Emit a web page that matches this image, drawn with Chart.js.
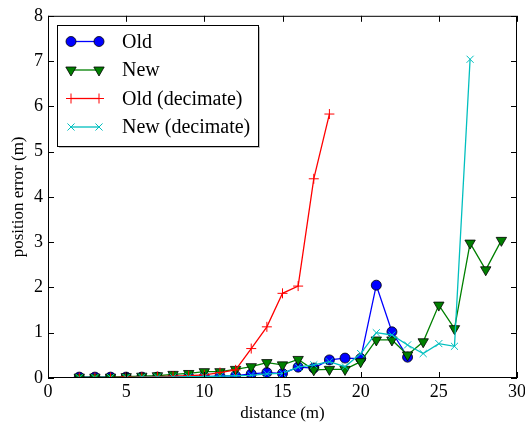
<!DOCTYPE html>
<html>
<head>
<meta charset="utf-8">
<script src="https://cdn.jsdelivr.net/npm/chart.js@4.4.0/dist/chart.umd.min.js"></script>
<style>
  html, body { margin: 0; padding: 0; background: #fff; }
  #wrap { width: 525px; height: 422px; position: relative; }
</style>
</head>
<body>
<div id="wrap"><canvas id="mycanvas" width="525" height="422"></canvas></div>
<script>
// distances (m) for each series
var oldDist = [2,3,4,5,6,7,8,9,10,11,12,13,14,15,16,17,18,19,20,21,22,23];
var oldErr = [0.02,0.02,0.02,0.02,0.02,0.02,0.03,0.03,0.03,0.04,0.05,0.09,0.12,0.1,0.24,0.22,0.4,0.44,0.43,2.05,1.02,0.46];

var newDist = [2,3,4,5,6,7,8,9,10,11,12,13,14,15,16,17,18,19,20,21,22,23,24,25,26,27,28,29];
var newErr = [0.02,0.02,0.02,0.03,0.04,0.05,0.08,0.1,0.14,0.14,0.19,0.25,0.34,0.29,0.41,0.18,0.19,0.19,0.36,0.84,0.84,0.51,0.8,1.61,1.09,2.98,2.39,3.04];

var oldDecDist = [2,3,4,5,6,7,8,9,10,11,12,13,14,15,16,17,18];
var oldDecErr = [0.01,0.01,0.01,0.02,0.02,0.03,0.04,0.05,0.07,0.12,0.18,0.65,1.13,1.87,2.03,4.4,5.83];

var newDecDist = [2,3,4,5,6,7,8,9,10,11,12,13,14,15,16,17,18,19,20,21,22,23,24,25,26,27];
var newDecErr = [0.01,0.01,0.01,0.01,0.02,0.02,0.02,0.03,0.03,0.04,0.05,0.06,0.09,0.1,0.24,0.29,0.36,0.25,0.54,1.0,0.95,0.73,0.54,0.76,0.7,7.04];

var xTicks = [0,5,10,15,20,25,30];
var yTicks = [0,1,2,3,4,5,6,7,8];

function pts(xs, ys) {
	var out = [];
	for (var i in xs) out.push({x: xs[i], y: ys[i]});
	return out;
}

var serif = "'Liberation Serif', 'DejaVu Serif', serif";

var datasets = [
	{
		label: "Old", data: pts(oldDist, oldErr), order: 4,
		borderColor: "#0000ff", backgroundColor: "#0000ff", borderWidth: 1.3,
		pointStyle: "circle", pointRadius: 5, pointBorderColor: "#000", pointBorderWidth: 0.8,
		pointBackgroundColor: "#0000ff"
	},
	{
		label: "New", data: pts(newDist, newErr), order: 3,
		borderColor: "#008000", backgroundColor: "#008000", borderWidth: 1.3,
		pointStyle: "triangle", pointRotation: 180, pointRadius: 6, pointBorderColor: "#000",
		pointBorderWidth: 0.8, pointBackgroundColor: "#008000"
	},
	{
		label: "Old (decimate)", data: pts(oldDecDist, oldDecErr), order: 2,
		borderColor: "#ff0000", backgroundColor: "#ff0000", borderWidth: 1.3,
		pointStyle: "cross", pointRadius: 5, pointBorderColor: "#ff0000", pointBorderWidth: 1
	},
	{
		label: "New (decimate)", data: pts(newDecDist, newDecErr), order: 1,
		borderColor: "#00bfbf", backgroundColor: "#00bfbf", borderWidth: 1.3,
		pointStyle: "crossRot", pointRadius: 5, pointBorderColor: "#00bfbf", pointBorderWidth: 1
	}
];

// inner ticks on all four sides + legend box, matplotlib style
var decor = {
	id: "decor",
	afterDraw: function(chart) {
		var c = chart.ctx, a = chart.chartArea;
		var xs = chart.scales.x, ys = chart.scales.y;
		c.save();
		c.strokeStyle = "#000";
		c.lineWidth = 1;
		c.beginPath();
		xTicks.forEach(function(t) {
			var p = Math.round(xs.getPixelForValue(t)) + 0.5;
			c.moveTo(p, a.bottom); c.lineTo(p, a.bottom - 6);
			c.moveTo(p, a.top); c.lineTo(p, a.top + 6);
		});
		yTicks.forEach(function(t) {
			var p = Math.round(ys.getPixelForValue(t)) + 0.5;
			c.moveTo(a.left, p); c.lineTo(a.left + 6, p);
			c.moveTo(a.right, p); c.lineTo(a.right - 6, p);
		});
		c.stroke();
		c.strokeRect(a.left + 0.5, a.top + 0.5, a.right - a.left - 1, a.bottom - a.top - 1);

		// legend
		var lx = 57, ly = 25, lw = 201, lh = 121;
		c.fillStyle = "rgba(0,0,0,0.25)";
		c.fillRect(lx + 2, ly + 2, lw, lh);
		c.fillStyle = "#fff";
		c.fillRect(lx, ly, lw, lh);
		c.strokeStyle = "#000";
		c.strokeRect(lx + 0.5, ly + 0.5, lw, lh);
		c.font = "20px " + serif;
		c.textBaseline = "middle";
		datasets.forEach(function(ds, i) {
			var y = ly + 16.5 + i * 28.5;
			var x0 = lx + 14, x1 = lx + 42;
			c.strokeStyle = ds.borderColor;
			c.lineWidth = 1.3;
			c.beginPath(); c.moveTo(x0, y); c.lineTo(x1, y); c.stroke();
			[x0, x1].forEach(function(px) {
				c.fillStyle = ds.pointBackgroundColor || ds.borderColor;
				c.strokeStyle = ds.pointBorderColor;
				c.lineWidth = ds.pointBorderWidth;
				var opts = {pointStyle: ds.pointStyle, rotation: ds.pointRotation || 0, radius: ds.pointRadius, borderWidth: ds.pointBorderWidth};
				Chart.helpers.drawPoint(c, opts, px, y);
			});
			c.fillStyle = "#000";
			c.fillText(ds.label, lx + 65, y + 1);
		});
		c.restore();
	}
};

var ctx = document.getElementById("mycanvas");
var chart = new Chart(ctx, {
	type: "line",
	data: { datasets: datasets },
	options: {
		responsive: false,
		animation: false,
		layout: { padding: { top: 15, right: 0, left: 0, bottom: 0 } },
		plugins: { legend: { display: false }, tooltip: { enabled: false } },
		scales: {
			x: {
				type: "linear", min: 0, max: 30,
				afterBuildTicks: function(s) { s.ticks = xTicks.map(function(v) { return {value: v}; }); },
				afterFit: function(s) { s.height = 44; s.paddingRight = 8; s.paddingLeft = 0; },
				grid: { display: false, drawTicks: false },
				border: { display: false },
				ticks: { color: "#000", font: { family: serif, size: 18 }, padding: 3, maxRotation: 0 },
				title: { display: true, text: "distance (m)", color: "#000", font: { family: serif, size: 17, lineHeight: 1 }, padding: 0 }
			},
			y: {
				min: 0, max: 8,
				afterBuildTicks: function(s) { s.ticks = yTicks.map(function(v) { return {value: v}; }); },
				afterFit: function(s) { s.width = 48; },
				grid: { display: false, drawTicks: false },
				border: { display: false },
				ticks: { color: "#000", font: { family: serif, size: 18 }, padding: 5 },
				title: { display: true, text: "position error (m)", color: "#000", font: { family: serif, size: 17 }, padding: { top: 8, bottom: 0 } }
			}
		}
	},
	plugins: [decor]
});
</script>
</body>
</html>
